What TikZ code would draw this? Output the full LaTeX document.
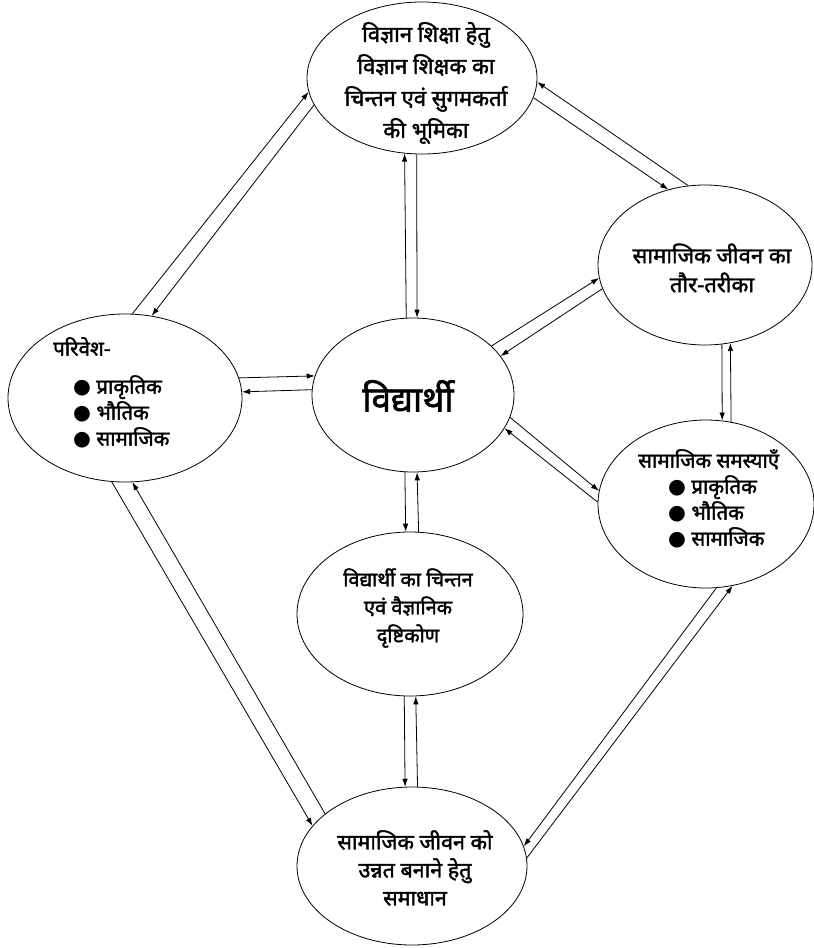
\documentclass[tikz,border=0pt]{standalone}
\usepackage{fontspec}
\setmainfont{Noto Sans}[Script=Devanagari, BoldFont={Noto Sans}, BoldFeatures={FakeBold=1.8}]
\newfontfamily\symfont{DejaVu Sans}
\usetikzlibrary{arrows.meta,shapes.geometric}

\begin{document}
\begin{tikzpicture}[x=1pt,y=1pt,yscale=-1,xscale=1,
	bubble/.style={draw, ellipse, line width=0.8pt, inner sep=0pt},
	txt/.style={align=center, inner sep=0pt, font=\bfseries\fontsize{21.5}{29}\selectfont},
	listtxt/.style={align=left, inner sep=0pt, anchor=north west, font=\bfseries\fontsize{20.5}{26}\selectfont},
	link/.style={line width=0.8pt, -{Latex[length=8pt,width=5.5pt]}}]
	\useasboundingbox (0,0) rectangle (814,948);
	
	%Shape: Ellipse [top]
	\node [bubble, minimum width=230pt, minimum height=152pt] (bhumika) at (422,78) {};
	%Shape: Ellipse [right top]
	\node [bubble, minimum width=214pt, minimum height=160pt] (tarika) at (705,265) {};
	%Shape: Ellipse [left]
	\node [bubble, minimum width=234pt, minimum height=168pt] (parivesh) at (125,398) {};
	%Shape: Ellipse [centre]
	\node [bubble, minimum width=202pt, minimum height=154pt] (vidyarthi) at (413,395) {};
	%Shape: Ellipse [right middle]
	\node [bubble, minimum width=216pt, minimum height=168pt] (samasya) at (706,504) {};
	%Shape: Ellipse [middle lower]
	\node [bubble, minimum width=226pt, minimum height=164pt] (drishti) at (410,614) {};
	%Shape: Ellipse [bottom]
	\node [bubble, minimum width=230pt, minimum height=158pt] (samadhan) at (412,866) {};
	
	% Text Node
	\node [txt, font=\bfseries\fontsize{22}{32}\selectfont] (bhumikaTxt) at (426,83) {विज्ञान शिक्षा हेतु\\विज्ञान शिक्षक का\\चिन्तन एवं सुगमकर्ता\\की भूमिका};
	% Text Node
	\node [txt, font=\bfseries\fontsize{22}{29}\selectfont] (tarikaTxt) at (712,268) {सामाजिक जीवन का\\तौर-तरीका};
	% Text Node
	\node [listtxt] (pariveshTxt) at (53,337) {परिवेश-\\[12pt]\hspace{20pt}{\symfont●} प्राकृतिक\\\hspace{20pt}{\symfont●} भौतिक\\\hspace{20pt}{\symfont●} सामाजिक};
	% Text Node
	\node [txt, font=\bfseries\fontsize{35}{40}\selectfont] (vidyarthiTxt) at (408,396) {विद्यार्थी};
	% Text Node
	\node [listtxt] (samasyaTxt) at (638,449) {सामाजिक समस्याएँ\\\hspace{30pt}{\symfont●} प्राकृतिक\\\hspace{30pt}{\symfont●} भौतिक\\\hspace{30pt}{\symfont●} सामाजिक};
	% Text Node
	\node [txt, font=\bfseries\fontsize{20}{28}\selectfont] (drishtiTxt) at (408,608) {विद्यार्थी का चिन्तन\\एवं वैज्ञानिक\\दृष्टिकोण};
	% Text Node
	\node [txt, font=\bfseries\fontsize{21.5}{28}\selectfont] (samadhanTxt) at (415,868) {सामाजिक जीवन को\\उन्नत बनाने हेतु\\समाधान};
	
	%Straight Lines [left - top]
	\draw [link] (parivesh.85.3) -- (bhumika.187.1);
	\draw [link] (bhumika.194.9) -- (parivesh.72);
	%Straight Lines [centre - top]
	\draw [link] (vidyarthi.95.95) -- (bhumika.257.3);
	\draw [link] (bhumika.266.2) -- (vidyarthi.87);
	%Straight Lines [right top - top]
	\draw [link] (tarika.102.8) -- (bhumika.358);
	\draw [link] (bhumika.350.3) -- (tarika.116.9);
	%Straight Lines [centre - right top]
	\draw [link] (vidyarthi.32.3) -- (tarika.187);
	\draw [link] (tarika.193.8) -- (vidyarthi.24.2);
	%Straight Lines [left - centre]
	\draw [link] (parivesh.10.5) -- (vidyarthi.169.6);
	\draw [link] (vidyarthi.177.2) -- (parivesh.3.9);
	%Straight Lines [right top - right middle]
	\draw [link] (tarika.282.1) -- (samasya.79.1);
	\draw [link] (samasya.73) -- (tarika.288.5);
	%Straight Lines [centre - right middle]
	\draw [link] (vidyarthi.347.6) -- (samasya.173.4);
	\draw [link] (samasya.179.5) -- (vidyarthi.340.8);
	%Straight Lines [centre - middle lower]
	\draw [link] (vidyarthi.264.05) -- (drishti.93.5);
	\draw [link] (drishti.84.4) -- (vidyarthi.273.7);
	%Straight Lines [middle lower - bottom]
	\draw [link] (drishti.266.5) -- (samadhan.95.1);
	\draw [link] (samadhan.86.4) -- (drishti.274.9);
	%Straight Lines [left - bottom]
	\draw [link] (parivesh.261) -- (samadhan.158.7);
	\draw [link] (samadhan.149) -- (parivesh.275.4);
	%Straight Lines [right middle - bottom]
	\draw [link] (samasya.277.5) -- (samadhan.10.8);
	\draw [link] (samadhan.4) -- (samasya.288.8);
	
\end{tikzpicture}
\end{document}
